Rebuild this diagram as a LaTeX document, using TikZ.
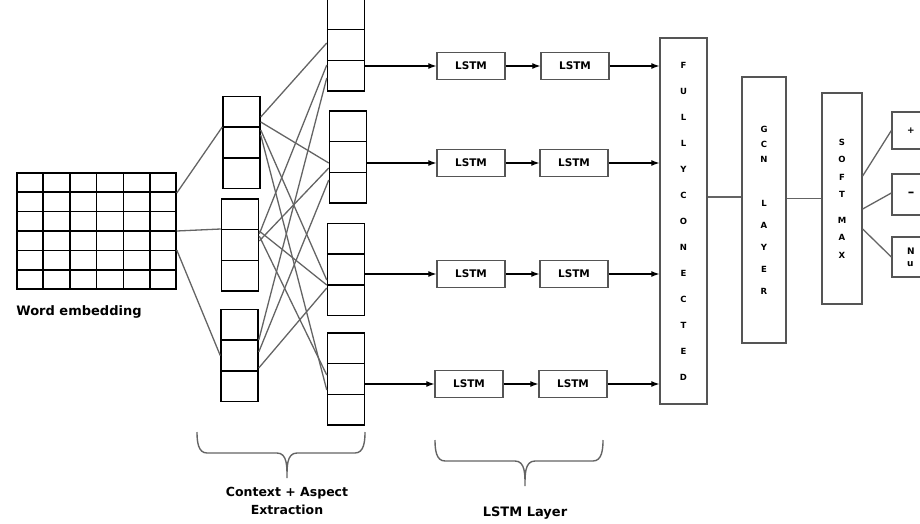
\documentclass[tikz,border=0pt]{standalone}
\usepackage{fontspec}
\setmainfont{DejaVu Sans}
\usepackage{xcolor}
\usetikzlibrary{arrows.meta, calc, positioning}
\definecolor{linegray}{RGB}{100,100,100}
\definecolor{boxgray}{RGB}{85,85,85}

\begin{document}
\begin{tikzpicture}[x=1pt, y=-1pt,
        cellbox/.style={draw=black, line width=1.5pt, minimum width=37pt, minimum height=92pt, inner sep=0pt},
        lstmbox/.style={draw=boxgray, line width=1.3pt, minimum width=68pt, minimum height=27pt, inner sep=0pt, font=\bfseries\fontsize{10.5}{12}\selectfont},
        colbox/.style={draw=boxgray, line width=1.3pt, inner sep=0pt, align=center, font=\bfseries\fontsize{8.5}{9}\selectfont},
        outbox/.style={draw=boxgray, line width=1.3pt, minimum width=38pt, inner sep=0pt, align=left, font=\bfseries\fontsize{9}{12}\selectfont},
        link/.style={draw=linegray, line width=1.3pt},
        arr/.style={-{Latex[length=8pt,width=6pt]}, line width=1.2pt},
        bracestyle/.style={draw=linegray, line width=1.4pt},
        lbl/.style={font=\bfseries\fontsize{12.5}{18}\selectfont, align=center}
    ]
    \useasboundingbox (0,0) rectangle (920,524);

    % Word embedding grid
    \node[draw=black, line width=1.5pt, minimum width=159pt, minimum height=116pt, inner sep=0pt] (embed) at (96.5,231) {};
    \foreach \i in {1,...,5} {
        \draw[line width=1.5pt] ($(embed.north west)!\i/6!(embed.north east)$) -- ($(embed.south west)!\i/6!(embed.south east)$);
        \draw[line width=1.5pt] ($(embed.north west)!\i/6!(embed.south west)$) -- ($(embed.north east)!\i/6!(embed.south east)$);
    }
    \node[lbl, font=\bfseries\fontsize{13}{16}\selectfont] (embedlbl) at (79,312) {Word embedding};

    % Context and aspect columns
    \node[cellbox] (ctx1) at (241.5,142.5) {};
    \node[cellbox] (ctx2) at (240,245) {};
    \node[cellbox] (ctx3) at (239.5,355.5) {};
    \node[cellbox] (asp1) at (346,45) {};
    \node[cellbox] (asp2) at (348,157) {};
    \node[cellbox] (asp3) at (346,269.5) {};
    \node[cellbox] (asp4) at (346,379) {};
    \foreach \b in {ctx1,ctx2,ctx3,asp1,asp2,asp3,asp4} {
        \draw[line width=1.5pt] ($(\b.north west)!1/3!(\b.south west)$) -- ($(\b.north east)!1/3!(\b.south east)$);
        \draw[line width=1.5pt] ($(\b.north west)!2/3!(\b.south west)$) -- ($(\b.north east)!2/3!(\b.south east)$);
    }

    % Embedding to context
    \draw[link] ([yshift=38pt]embed.east) -- ([yshift=15.5pt]ctx1.west);
    \draw[link] (embed.east) -- ([yshift=16pt]ctx2.west);
    \draw[link] ([yshift=-19pt]embed.east) -- (ctx3.west);

    % Context to aspect
    \foreach \s/\sy/\t/\ty in {ctx1/25.5/asp1/2, ctx1/20.5/asp2/-6, ctx1/12.5/asp3/-10.5, ctx1/7.5/asp4/-11,
                               ctx2/11/asp1/-20, ctx2/4/asp2/-11, ctx2/14/asp3/-15.5, ctx2/9/asp4/4,
                               ctx3/15.5/asp1/-33, ctx3/3.5/asp2/-23, ctx3/-12.5/asp3/-18.5}
        \draw[link] ([yshift=\sy pt]\s.east) -- ([yshift=\ty pt]\t.west);

    % LSTM layer
    \node[lstmbox] (lstm1a) at (471,66) {LSTM};
    \node[lstmbox] (lstm1b) at (575,66) {LSTM};
    \node[lstmbox] (lstm2a) at (471,163) {LSTM};
    \node[lstmbox] (lstm2b) at (574,163) {LSTM};
    \node[lstmbox] (lstm3a) at (471,274) {LSTM};
    \node[lstmbox] (lstm3b) at (574,274) {LSTM};
    \node[lstmbox] (lstm4a) at (469,384) {LSTM};
    \node[lstmbox] (lstm4b) at (573,384) {LSTM};

    % Fully connected, GCN, softmax
    \node[colbox, minimum width=47pt, minimum height=366pt, font=\bfseries\fontsize{8.5}{26}\selectfont] (fc) at (683.5,221)
        {F\\U\\L\\L\\Y\\C\\O\\N\\E\\C\\T\\E\\D};
    \node[colbox, minimum width=44pt, minimum height=266pt, font=\bfseries\fontsize{8.5}{15}\selectfont] (gcn) at (764,210)
        {G\\C\\N\\[29pt]L\\[7pt]A\\[7pt]Y\\[7pt]E\\[7pt]R};
    \node[colbox, minimum width=40pt, minimum height=211pt, font=\bfseries\fontsize{8.5}{17.5}\selectfont] (soft) at (842,198.5)
        {S\\O\\F\\T\\[8pt]M\\A\\X};

    % Outputs
    \node[outbox, minimum height=37pt] (pos) at (911,130.5) {+};
    \node[outbox, minimum height=41pt, font=\bfseries\fontsize{13}{14}\selectfont] (neg) at (911,194.5) {–};
    \node[outbox, minimum height=40pt] (neu) at (911,257) {N\\u};

    % Arrows
    \foreach \r in {1,2,3,4} {
        \draw[arr] (asp\r.east |- lstm\r a.west) -- (lstm\r a.west);
        \draw[arr] (lstm\r a) -- (lstm\r b);
        \draw[arr] (lstm\r b.east) -- (fc.west |- lstm\r b.east);
    }
    \coordinate (gcnin) at ([yshift=13pt]gcn.west);
    \draw[link] (fc.east |- gcnin) -- (gcnin);
    \draw[link] (gcn.east |- soft.west) -- (soft.west);
    \draw[link] ([yshift=22.5pt]soft.east) -- (pos.west);
    \draw[link] ([yshift=-10.5pt]soft.east) -- ([yshift=1.5pt]neg.west);
    \draw[link] ([yshift=-30.5pt]soft.east) -- (neu.west);

    % Braces
    \coordinate (ctxbrace) at (197,432);
    \coordinate (lstmbrace) at (435,440);
    \foreach \c in {ctxbrace,lstmbrace}
        \draw[bracestyle] (\c) to[out=-90,in=180] ++(10,21) -- ++(70,0) to[out=0,in=90] ++(10,25)
            to[out=90,in=180] ++(10,-25) -- ++(58,0) to[out=0,in=-90] ++(10,-21);
    \node[lbl] (ctxlbl) at (287,501) {Context + Aspect\\Extraction};
    \node[lbl, font=\bfseries\fontsize{13}{16}\selectfont] (lstmlbl) at (525,513) {LSTM Layer};

    \end{tikzpicture}
\end{document}
